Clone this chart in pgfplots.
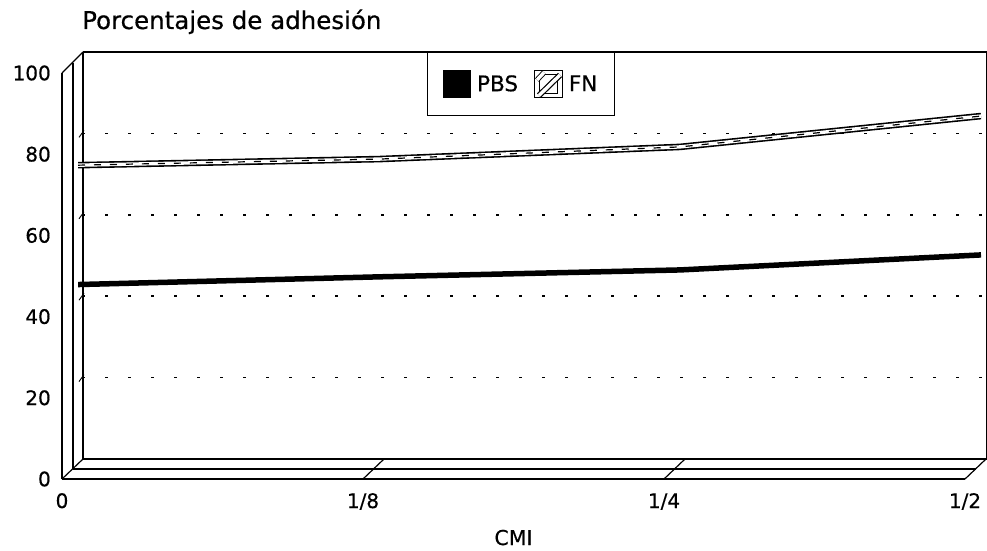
\documentclass[border=0pt]{standalone}
\usepackage{pgfplots}
\pgfplotsset{compat=1.18}
\usepackage{pgfplotstable}
\usepackage{fontspec}
\setmainfont{DejaVu Sans}[FakeBold=0.5]

% adhesion percentages (CMI fractions plotted at 0,1,2,3)
\pgfplotstableread{
x  pbs   fn
0  44.2  73.6
1  46.1  75.1
2  47.8  78.1
3  51.5  85.7
}\adhesion

\begin{document}
\begin{tikzpicture}[x=1pt,y=1pt]
\useasboundingbox (0,0) rectangle (987,550);

% three-dimensional frame: floor slab and walls
\begin{scope}[line width=1.2pt]
  \draw (62,71)--(965,71);
  \draw (73,81)--(976,81);
  \draw (83,91)--(987,91);
  \foreach \i in {0,1,2,3} \draw ({62+301*\i},71)--({83+301*\i},91);
  \draw (62,71)--(62,477);
  \draw (73,81)--(73,487);
  \draw (83,91)--(83,498);
  \draw (62,477)--(83,498);
  \draw (83,498)--(987,498);
  \draw (987,498)--(987,91);
  \foreach \v in {20,40,60,80}
    \draw[line width=0.9pt] (79,{91+4.07*\v-4})--(84,{91+4.07*\v+3});
\end{scope}

% back wall with dotted grid
\begin{axis}[at={(83pt,91pt)}, anchor=south west,
  width=904pt, height=407pt, scale only axis,
  xmin=0, xmax=3, ymin=0, ymax=100,
  axis line style={draw=none}, tick style={draw=none},
  xtick=\empty, ytick={20,40,60,80}, yticklabels={},
  ymajorgrids,
  grid style={black, line width=1.5pt, dash pattern=on 3pt off 20pt, dash phase=-22pt}]
\end{axis}

% front plane: tick labels and axis label
\begin{axis}[at={(62pt,71pt)}, anchor=south west,
  width=903pt, height=406pt, scale only axis,
  xmin=0, xmax=3, ymin=0, ymax=100,
  axis line style={draw=none}, tick style={draw=none},
  xtick={0,1,2,3}, xticklabels={{0},{1/8},{1/4},{1/2}},
  ytick={0,20,40,60,80,100},
  /pgf/number format/assume math mode=true,
  ticklabel style={font=\fontsize{20}{20}\selectfont},
  yticklabel style={anchor=east, inner sep=0pt, xshift=-11pt},
  xticklabel style={anchor=base, inner sep=0pt, yshift=-29pt},
  xlabel={CMI},
  xlabel style={at={(axis description cs:0.5,0)}, anchor=base,
    inner sep=0pt, yshift=-66pt, font=\fontsize{20.5}{20.5}\selectfont}]
\end{axis}

% series ribbons
\begin{axis}[at={(78pt,86pt)}, anchor=south west,
  width=903pt, height=406pt, scale only axis,
  xmin=0, xmax=3, ymin=0, ymax=100,
  axis line style={draw=none}, tick style={draw=none},
  xtick=\empty, ytick=\empty,
  legend columns=2,
  legend style={at={(axis description cs:0.3865,1.0148)}, anchor=north west,
    draw=black, line width=1.2pt, fill=white,
    font=\fontsize{21.5}{21.5}\selectfont,
    inner xsep=15pt, inner ysep=17pt,
    /tikz/every odd column/.append style={column sep=4pt},
    /tikz/every even column/.append style={column sep=14pt}}]
\addplot[black, line width=5.5pt,
  legend image code/.code={\fill[black] (0pt,-11.5pt) rectangle (23pt,11.5pt);}]
  table[x=x, y=pbs] {\adhesion};
\addlegendentry{PBS}
\addplot[black, line width=1.6pt, double=white, double distance=3.4pt,
  legend image code/.code={
    \draw[black, line width=1.2pt] (0pt,-11.5pt) rectangle (23pt,11.5pt);
    \draw[black, line width=1.2pt] (2pt,-11.5pt) -- (23pt,9pt);
    \draw[black, line width=0.9pt] (0pt,4pt) -- (7pt,11.5pt);}]
  table[x=x, y=fn] {\adhesion};
\addlegendentry{FN}
\addplot[black, line width=1.2pt, dash pattern=on 7pt off 9pt, forget plot]
  table[x=x, y=fn] {\adhesion};
\end{axis}

\node[anchor=base west, inner sep=0pt, font=\fontsize{24.5}{24.5}\selectfont]
  at (82,521) {Porcentajes de adhesión};
\end{tikzpicture}
\end{document}
